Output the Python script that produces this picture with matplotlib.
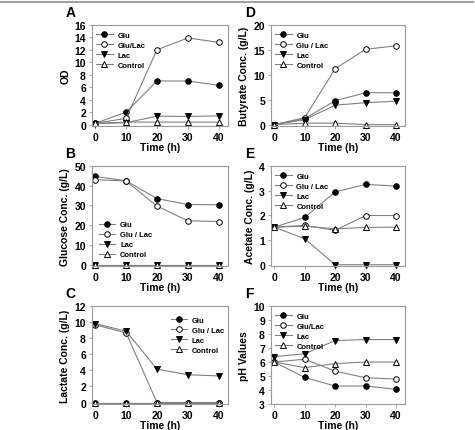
import numpy as np
import matplotlib
matplotlib.use("Agg")
import matplotlib.pyplot as plt
from matplotlib.lines import Line2D

plt.rcParams['font.family'] = ['Liberation Sans', 'DejaVu Sans']
plt.rcParams['font.weight'] = 'bold'

# ---- data ----
time_h = [0, 10, 20, 30, 40]

od_glu = [0.2, 2.0, 7.0, 7.0, 6.3]
od_glulac = [0.2, 1.0, 12.0, 13.9, 13.2]
od_lac = [0.15, 0.3, 1.35, 1.3, 1.4]
od_ctrl = [0.2, 0.4, 0.4, 0.4, 0.4]

glc_glu = [44.6, 42.4, 33.4, 30.4, 30.3]
glc_glulac = [43.0, 42.3, 29.6, 22.2, 21.8]
glc_lac = [0, 0, 0, 0, 0]
glc_ctrl = [0, 0, 0, 0, 0]

lacc_glu = [0, 0, 0, 0, 0]
lacc_glulac = [9.65, 8.65, 0, 0, 0]
lacc_lac = [9.8, 8.85, 4.15, 3.45, 3.3]
lacc_ctrl = [0, 0, 0, 0, 0]

but_glu = [0, 1.2, 4.8, 6.4, 6.4]
but_glulac = [0, 1.4, 11.2, 15.1, 15.8]
but_lac = [0, 1.0, 3.9, 4.4, 4.7]
but_ctrl = [0, 0.3, 0.3, 0, 0]

ace_glu = [1.52, 1.91, 2.94, 3.25, 3.18]
ace_glulac = [1.52, 1.59, 1.39, 1.99, 1.99]
ace_lac = [1.52, 1.05, 0, 0, 0]
ace_ctrl = [1.52, 1.56, 1.45, 1.51, 1.52]

ph_glu = [6.0, 4.9, 4.29, 4.29, 4.06]
ph_glulac = [6.0, 6.2, 5.35, 4.88, 4.79]
ph_lac = [6.38, 6.59, 7.53, 7.6, 7.6]
ph_ctrl = [6.0, 5.6, 5.89, 6.0, 6.0]

# series styles: (marker, facecolor)
styles = [('o', 'black'), ('o', 'white'), ('v', 'black'), ('^', 'white')]
line_col = '#808080'
frame_col = '#9a9a9a'

panels = [
    # letter, pos, series, labels, ylim, yticks, ylabel, legend loc
    ('A', [0.194, 0.705, 0.286, 0.235], [od_glu, od_glulac, od_lac, od_ctrl],
     ['Glu', 'Glu/Lac', 'Lac', 'Control'], (-0.25, 16), np.arange(0, 17, 2), 'OD', 'upper left'),
    ('B', [0.194, 0.380, 0.286, 0.233], [glc_glu, glc_glulac, glc_lac, glc_ctrl],
     ['Glu', 'Glu / Lac', 'Lac', 'Control'], (-0.8, 50), np.arange(0, 51, 10), 'Glucose Conc. (g/L)', 'lower left'),
    ('C', [0.194, 0.060, 0.286, 0.228], [lacc_glu, lacc_glulac, lacc_lac, lacc_ctrl],
     ['Glu', 'Glu / Lac', 'Lac', 'Control'], (-0.2, 12), np.arange(0, 13, 2), 'Lactate Conc. (g/L)', 'upper right'),
    ('D', [0.571, 0.705, 0.282, 0.235], [but_glu, but_glulac, but_lac, but_ctrl],
     ['Glu', 'Glu / Lac', 'Lac', 'Control'], (-0.3, 20), np.arange(0, 21, 5), 'Butyrate Conc. (g/L)', 'upper left'),
    ('E', [0.571, 0.380, 0.282, 0.233], [ace_glu, ace_glulac, ace_lac, ace_ctrl],
     ['Glu', 'Glu / Lac', 'Lac', 'Control'], (-0.06, 4), np.arange(0, 5, 1), 'Acetate Conc. (g/L)', 'upper left'),
    ('F', [0.571, 0.060, 0.282, 0.228], [ph_glu, ph_glulac, ph_lac, ph_ctrl],
     ['Glu', 'Glu/Lac', 'Lac', 'Control'], (3, 10), np.arange(3, 11, 1), 'pH Values', 'upper left'),
]

fig = plt.figure(figsize=(4.75, 4.31), dpi=100)

for letter, pos, series, labels, ylim, yticks, ylabel, loc in panels:
    ax = fig.add_axes(pos)
    for (mk, fc), ys, lab in zip(styles, series, labels):
        ax.plot(time_h, ys, color=line_col, lw=0.8, marker=mk, markersize=4,
                markerfacecolor=fc, markeredgecolor='black', markeredgewidth=0.7,
                label=lab, clip_on=False)
    ax.set_xlim(-1, 43)
    ax.set_ylim(*ylim)
    ax.set_xticks(time_h)
    ax.set_yticks(yticks)
    ax.tick_params(labelsize=7.5, length=2.5, width=0.6, color=frame_col, pad=2)
    for lbl in ax.get_xticklabels() + ax.get_yticklabels():
        lbl.set_fontweight('bold')
    for sp in ax.spines.values():
        sp.set_color(frame_col)
        sp.set_linewidth(0.8)
    ax.set_xlabel('Time (h)', fontsize=7.5, fontweight='bold', labelpad=0)
    ax.set_ylabel(ylabel, fontsize=7.5, fontweight='bold', labelpad=3)

    leg_kw = dict(prop={'size': 5.5, 'weight': 'bold'}, frameon=False,
                  handlelength=2.2, handletextpad=0.6, labelspacing=0.35,
                  borderaxespad=0.2, borderpad=0.3)
    if loc == 'lower left':
        ax.legend(loc='lower left', bbox_to_anchor=(0.02, 0.04), **leg_kw)
    elif loc == 'upper right':
        ax.legend(loc='upper right', bbox_to_anchor=(1.0, 0.93), **leg_kw)
    else:
        ax.legend(loc='upper left', bbox_to_anchor=(0.0, 0.97), **leg_kw)

    ax.text(-0.16, 1.06, letter, transform=ax.transAxes, fontsize=10,
            fontweight='bold', ha='center', va='bottom')

fig.add_artist(Line2D([0.0, 0.995], [0.993, 0.993], color='#a0a0a0', lw=1.5,
                      transform=fig.transFigure))

fig.savefig('out.png', dpi=100)
